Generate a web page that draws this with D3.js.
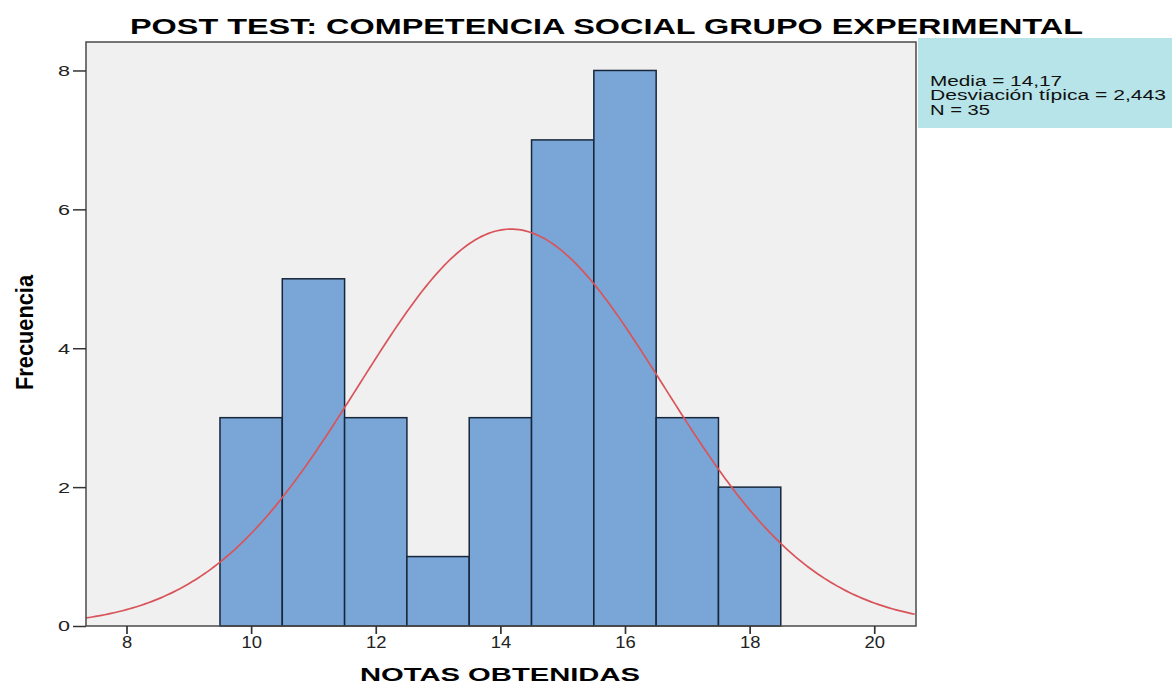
<!DOCTYPE html>
<html><head><meta charset="utf-8">
<script src="https://cdn.jsdelivr.net/npm/d3@7"></script>
<style>body{margin:0;background:#fff}svg{display:block}</style>
</head><body>
<svg id="c" width="1172" height="686"></svg>
<script>
const binStarts = [9.5,10.5,11.5,12.5,13.5,14.5,15.5,16.5,17.5];
const counts = [3,5,3,1,3,7,8,3,2];
const binWidth = 1;
const xTicks = [8,10,12,14,16,18,20];
const yTicks = [0,2,4,6,8];
const mean = 14.17, sd = 2.443, n = 35;
const statLines = ["Media = 14,17","Desviación típica = 2,443","N = 35"];
const title = "POST TEST: COMPETENCIA SOCIAL GRUPO EXPERIMENTAL";
const xLabel = "NOTAS OBTENIDAS", yLabel = "Frecuencia";

const F = "Liberation Sans, Arial, sans-serif";
const svg = d3.select("#c");
const L=86,R=916,T=42,B=626;
const x = d3.scaleLinear().domain([7.35,20.67]).range([L,R]);
const y = d3.scaleLinear().domain([0,8.41]).range([B,T]);

svg.append("rect").attr("x",L).attr("y",T).attr("width",R-L).attr("height",B-T).attr("fill","#f0f0f0");

svg.selectAll(".bar").data(counts).enter().append("rect")
  .attr("x",(d,i)=>x(binStarts[i])).attr("width",(d,i)=>x(binStarts[i]+binWidth)-x(binStarts[i]))
  .attr("y",d=>y(d)).attr("height",d=>y(0)-y(d))
  .attr("fill","#79a6d6").attr("stroke","#17263a").attr("stroke-width",1.5);

svg.append("defs").append("clipPath").attr("id","clip").append("rect")
  .attr("x",L).attr("y",T).attr("width",R-L).attr("height",B-T);
const pts = d3.range(7.35,20.68,0.05).map(v=>[v, n*binWidth*Math.exp(-0.5*((v-mean)/sd)**2)/(sd*Math.sqrt(2*Math.PI))]);
svg.append("path").datum(pts).attr("clip-path","url(#clip)")
  .attr("d",d3.line().x(d=>x(d[0])).y(d=>y(d[1])))
  .attr("fill","none").attr("stroke","#d9545a").attr("stroke-width",1.7);

svg.append("rect").attr("x",L).attr("y",T).attr("width",R-L).attr("height",B-T)
  .attr("fill","none").attr("stroke","#4a4a4a").attr("stroke-width",1.5);

const xa = svg.append("g").attr("transform",`translate(0,${B})`)
  .call(d3.axisBottom(x).tickValues(xTicks).tickSize(8).tickSizeOuter(0).tickPadding(3));
xa.select(".domain").remove();
xa.selectAll("line").attr("stroke","#333").attr("stroke-width",1.7);
xa.selectAll("text").attr("font-family",F).attr("font-size",16).attr("fill","#222")
  .attr("transform","scale(1.15,1)");

const ya = svg.append("g").attr("transform",`translate(${L},0)`)
  .call(d3.axisLeft(y).tickValues(yTicks).tickSize(13).tickSizeOuter(0).tickPadding(3));
ya.select(".domain").remove();
ya.selectAll("line").attr("stroke","#333").attr("stroke-width",1.5);
ya.selectAll("text").attr("font-family",F).attr("font-size",15.5).attr("fill","#222")
  .attr("textLength",12).attr("lengthAdjust","spacingAndGlyphs");

svg.append("text").attr("x",130).attr("y",34)
  .attr("font-family",F).attr("font-weight","bold").attr("font-size",22.5)
  .attr("textLength",953).attr("lengthAdjust","spacingAndGlyphs").text(title);
svg.append("text").attr("x",360).attr("y",681)
  .attr("font-family",F).attr("font-weight","bold").attr("font-size",19)
  .attr("textLength",280).attr("lengthAdjust","spacingAndGlyphs").text(xLabel);
svg.append("text").attr("transform","translate(33,390) rotate(-90)")
  .attr("font-family","Liberation Sans Narrow, Arial Narrow, sans-serif").attr("font-weight","bold").attr("font-size",23)
  .attr("textLength",115).attr("lengthAdjust","spacingAndGlyphs").text(yLabel);

svg.append("rect").attr("x",918).attr("y",38).attr("width",254).attr("height",90).attr("fill","#b6e4e8");
const statLen = [132,236,60];
svg.append("g").selectAll("text").data(statLines).enter().append("text")
  .attr("x",930).attr("y",(d,i)=>86+i*14.3)
  .attr("font-family",F).attr("font-size",14).attr("fill","#111")
  .attr("textLength",(d,i)=>statLen[i]).attr("lengthAdjust","spacingAndGlyphs").text(d=>d);
</script>
</body></html>
